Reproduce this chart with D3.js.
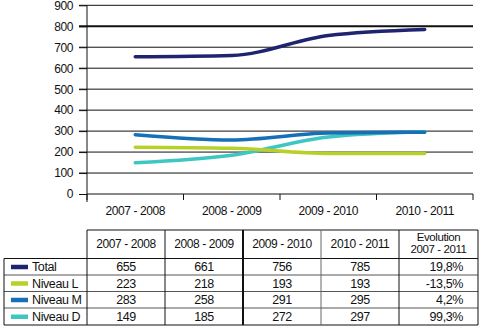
<!DOCTYPE html>
<html>
<head>
<meta charset="utf-8">
<script src="https://cdn.jsdelivr.net/npm/d3@7"></script>
<style>
  html, body { margin: 0; padding: 0; background: #fff; }
  svg text { font-family: "Liberation Sans Narrow", "Arial Narrow", "Liberation Sans", sans-serif; letter-spacing: -0.4px; fill: #111; }
</style>
</head>
<body>
<div id="chart"></div>
<script>
const periods = ["2007 - 2008", "2008 - 2009", "2009 - 2010", "2010 - 2011"];
const seriesNames = ["Total", "Niveau L", "Niveau M", "Niveau D"];
const seriesColors = ["#1f2470", "#b8d12a", "#1570b8", "#40c6c2"];
const total = [655, 661, 756, 785];
const niveauL = [223, 218, 193, 193];
const niveauM = [283, 258, 291, 295];
const niveauD = [149, 185, 272, 297];
const evolution = ["19,8%", "-13,5%", "4,2%", "99,3%"];
const yTicks = [0, 100, 200, 300, 400, 500, 600, 700, 800, 900];

const allSeries = [total, niveauL, niveauM, niveauD];
const width = 483, height = 329;
const m = {left: 87, right: 10, top: 5, bottom: 135};

const svg = d3.select("#chart").append("svg")
    .attr("width", width).attr("height", height);

const x = d3.scaleBand().domain(periods).range([m.left, 473]);
const y = d3.scaleLinear().domain([0, 900]).range([194, 5.3]);

// grille horizontale
svg.append("g").selectAll("line")
    .data(yTicks.filter(d => d > 0))
    .join("line")
    .attr("x1", 79).attr("x2", 473)
    .attr("y1", d => y(d)).attr("y2", d => y(d))
    .attr("stroke", "#111")
    .attr("stroke-width", d => d === 800 ? 2.2 : 1);

// axe Y
const yAxis = svg.append("g")
    .attr("transform", `translate(${m.left},0)`)
    .call(d3.axisLeft(y).tickValues(yTicks).tickSize(8).tickPadding(6).tickFormat(d3.format("d")));
yAxis.select(".domain").attr("stroke", "#111").attr("d", `M0,${y(900)}V${y(0) + 8}`);
yAxis.selectAll("text").attr("font-size", 12).style("font-family", null);
yAxis.selectAll(".tick line").attr("stroke", "#111");

// axe X
const xAxis = svg.append("g")
    .attr("transform", `translate(0,${y(0)})`)
    .call(d3.axisBottom(x).tickSize(0).tickPadding(12));
xAxis.select(".domain").attr("stroke", "#111").attr("d", `M${m.left},0H473`);
xAxis.selectAll("text").attr("font-size", 12).style("font-family", null);
svg.append("g").selectAll("line")
    .data(periods.map(p => x(p)).concat([x.range()[1]]))
    .join("line")
    .attr("x1", d => d).attr("x2", d => d)
    .attr("y1", y(0)).attr("y2", y(0) + 6)
    .attr("stroke", "#111");

// courbes
const line = d3.line()
    .x((d, i) => x(periods[i]) + x.bandwidth() / 2)
    .y(d => y(d))
    .curve(d3.curveMonotoneX);

const drawOrder = [3, 1, 2, 0];
svg.append("g").selectAll("path")
    .data(drawOrder)
    .join("path")
    .attr("d", i => line(allSeries[i]))
    .attr("fill", "none")
    .attr("stroke", i => seriesColors[i])
    .attr("stroke-width", 3.5)
    .attr("stroke-linecap", "round");

// tableau
const cols = [4, 87, 165, 243, 321, 399, 478];
const rowsY = [230, 258.5, 275, 291.5, 308, 325];
const tbl = svg.append("g").attr("stroke", "#111").attr("fill", "none");

// lignes horizontales
tbl.append("line").attr("x1", cols[1]).attr("x2", cols[6]).attr("y1", rowsY[0]).attr("y2", rowsY[0]);
rowsY.slice(1).forEach((ry, i) => {
    tbl.append("line").attr("x1", cols[0]).attr("x2", cols[6]).attr("y1", ry).attr("y2", ry)
        .attr("stroke", i === 0 || i === 4 ? "#111" : "#555");
});
// lignes verticales
cols.forEach((cx, i) => {
    tbl.append("line").attr("x1", cx).attr("x2", cx)
        .attr("y1", i === 0 ? rowsY[1] : rowsY[0]).attr("y2", rowsY[5])
        .attr("stroke-width", i === 3 ? 2 : 1)
        .attr("stroke", i === 4 ? "#666" : "#111");
});

// en-têtes
const colCenter = i => (cols[i + 1] + cols[i + 2]) / 2;
svg.append("g").selectAll("text")
    .data(periods)
    .join("text")
    .attr("x", (d, i) => colCenter(i))
    .attr("y", 248)
    .attr("text-anchor", "middle")
    .attr("font-size", 12)
    .text(d => d);
svg.append("text").attr("x", colCenter(4)).attr("y", 241)
    .attr("text-anchor", "middle").attr("font-size", 11.5).text("Evolution");
svg.append("text").attr("x", colCenter(4)).attr("y", 253)
    .attr("text-anchor", "middle").attr("font-size", 11.5).text("2007 - 2011");

// lignes de données
seriesNames.forEach((name, r) => {
    const cy = (rowsY[r + 1] + rowsY[r + 2]) / 2;
    svg.append("rect")
        .attr("x", 11).attr("y", cy - 2)
        .attr("width", 17).attr("height", 4.5)
        .attr("fill", seriesColors[r]);
    svg.append("text").attr("x", 32).attr("y", cy + 4.5)
        .attr("font-size", 12.5).text(name);
    allSeries[r].forEach((v, c) => {
        svg.append("text").attr("x", colCenter(c)).attr("y", cy + 4.5)
            .attr("text-anchor", "middle").attr("font-size", 12.5).text(v);
    });
    svg.append("text").attr("x", 463).attr("y", cy + 4.5)
        .attr("text-anchor", "end").attr("font-size", 12.5).text(evolution[r]);
});
</script>
</body>
</html>
